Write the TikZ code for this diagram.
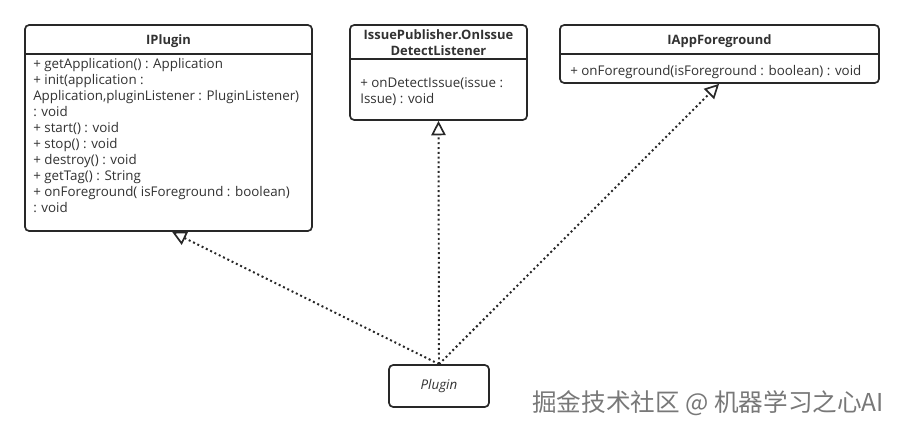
\documentclass[tikz,border=0pt]{standalone}
\usepackage{fontspec}
\setmainfont{Open Sans}
\newfontfamily\cjkfont{Noto Sans CJK SC}
\usetikzlibrary{arrows.meta}
\definecolor{umlLine}{RGB}{40,40,40}
\definecolor{umlText}{RGB}{50,50,50}
\definecolor{markGray}{RGB}{120,120,120}

\begin{document}
\begin{tikzpicture}[x=0.025cm, y=-0.025cm,
        classbox/.style={rectangle, draw=umlLine, line width=1.2pt, rounded corners=3pt, fill=white},
        classname/.style={font=\fontsize{9.2}{11.4}\selectfont\bfseries, text=umlText, align=center},
        members/.style={font=\fontsize{9.5}{11.4}\selectfont, text=umlText, align=left, anchor=north west, inner sep=0pt},
        divider/.style={draw=umlLine, line width=1.2pt},
        realizes/.style={draw=umlLine, line width=1.4pt, dash pattern=on 1.4pt off 2pt, -{Triangle[open, length=0.36cm, width=0.36cm, line width=1.2pt]}}
    ]
        \useasboundingbox (0,0) rectangle (904,432);
        \node[classbox, minimum width=7.175cm, minimum height=5.15cm] (iplugin) at (168.5,128) {};
        \node[classname] (ipluginName) at (168.5,41) {IPlugin};
        \draw[divider] (iplugin.west |- 0,54) -- (iplugin.east |- 0,54);
        \node[members] (ipluginOps) at (33,58) {+ getApplication() : Application\\+ init(application :\\Application,pluginListener : PluginListener)\\: void\\+ start() : void\\+ stop() : void\\+ destroy() : void\\+ getTag() : String\\+ onForeground( isForeground : boolean)\\: void};

        \node[classbox, minimum width=4.425cm, minimum height=2.375cm] (listener) at (438.5,72.5) {};
        \node[classname] (listenerName) at (438.5,43) {IssuePublisher.OnIssue\\DetectListener};
        \draw[divider] (listener.west |- 0,59) -- (listener.east |- 0,59);
        \node[members] (listenerOps) at (360,77) {+ onDetectIssue(issue :\\Issue) : void};

        \node[classbox, minimum width=7.975cm, minimum height=1.45cm] (iappfg) at (719.5,54) {};
        \node[classname] (iappfgName) at (719.5,41) {IAppForeground};
        \draw[divider] (iappfg.west |- 0,54) -- (iappfg.east |- 0,54);
        \node[members] (iappfgOps) at (570,65) {+ onForeground(isForeground : boolean) : void};

        \node[classbox, minimum width=2.5cm, minimum height=1.05cm, font=\fontsize{9.5}{11.4}\selectfont\itshape, text=umlText] (plugin) at (439,386) {Plugin};

        \draw[realizes] (plugin.north) -- ([xshift=0.09cm]iplugin.south);
        \draw[realizes] (plugin.north) -- (listener.south);
        \draw[realizes] (plugin.north) -- ([xshift=-0.01cm]iappfg.south);

        \node[font=\cjkfont\fontsize{17.5}{20}\selectfont, text=markGray, anchor=east] (watermark) at (889,403) {掘金技术社区 @ 机器学习之心AI};
    \end{tikzpicture}
\end{document}
